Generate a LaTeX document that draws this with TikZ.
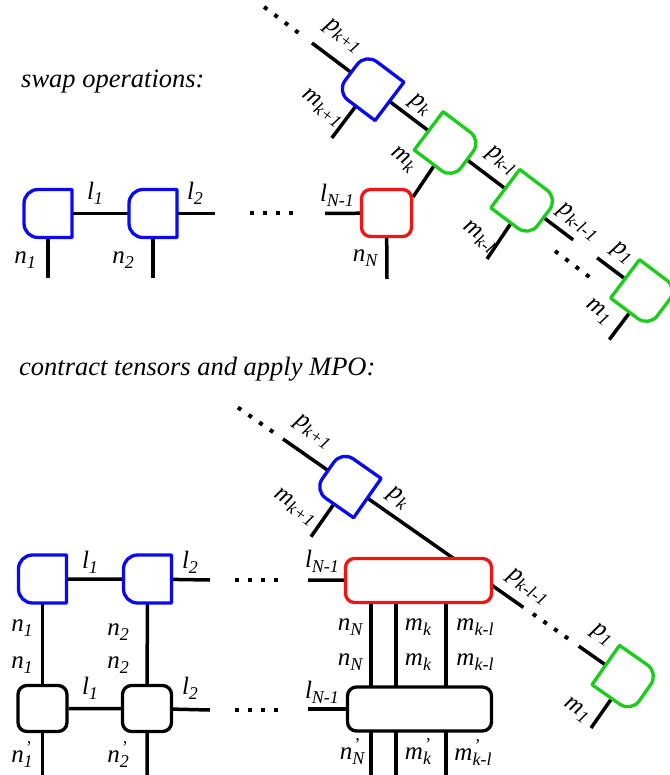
\documentclass[tikz,border=0pt]{standalone}
\usepackage{fontspec}
\setmainfont{Liberation Serif}
\definecolor{tblue}{RGB}{10,10,240}
\definecolor{tgreen}{RGB}{25,205,25}
\definecolor{tred}{RGB}{240,20,20}
\newcommand\subfont{\fontsize{18}{18}\selectfont\itshape}
\newcommand\ix[2]{\textit{#1}\raisebox{-5pt}{\subfont #2}}
\newcommand\ixp[2]{\textit{#1}\rlap{\raisebox{9pt}{\subfont\kern1pt '}}\raisebox{-5pt}{\subfont #2}}
\newcommand\Dshape[4]{%
  \begin{scope}[shift={(#2)},rotate=#3,xscale=#4]
    \draw[tens,draw=#1] (24,-24) -- (-10,-24) .. controls (-17.8,-24) and (-24,-17.8) .. (-24,-10)
      -- (-24,10) .. controls (-24,17.8) and (-17.8,24) .. (-10,24) -- (24,24) -- cycle;
  \end{scope}}
\pgfdeclarelayer{bg}
\pgfsetlayers{bg,main}
\begin{document}
\begin{tikzpicture}[x=1pt,y=-1pt,
  bond/.style={line width=3.5pt},
  dotline/.style={line width=4pt,dash pattern=on 4pt off 9pt},
  tens/.style={line width=3.3pt,fill=white,line join=round},
  lbl/.style={font=\fontsize{25}{25}\selectfont,inner sep=0pt},
  ttl/.style={font=\fontsize{26.5}{26.5}\selectfont\itshape,inner sep=0pt,anchor=base west},
  box/.style={draw,line width=3.3pt,fill=white,rounded corners=9pt,inner sep=0pt}]
\useasboundingbox (0,0) rectangle (669,775);

% titles
\node[ttl] (t1) at (21,88) {swap operations:};
\node[ttl] (t2) at (19,375) {contract tensors and apply MPO:};

% ===== TOP =====
\coordinate (A1) at (48,213.5);
\coordinate (A2) at (153,213.5);
\coordinate (A2r) at (215,213.5);
\coordinate (Ad1) at (250,213.5);
\coordinate (Ad2) at (293,213.5);
\coordinate (ARl) at (325,213.5);
\coordinate (A1d) at (48,278);
\coordinate (A2d) at (153,278);
\coordinate (ARd) at (387,279);
\node[box,draw=tred,minimum width=50pt,minimum height=47pt] (R1) at (386.5,213) {};

\coordinate (Ts) at (312,43);
\coordinate (Td1) at (264.1,6.9);
\coordinate (Td2) at (298.4,32.8);
\coordinate (B) at (370.3,86.9);
\coordinate (G1) at (447.8,145.3);
\coordinate (G2) at (524.4,203.1);
\coordinate (G2r) at (573.1,239.8);
\coordinate (Te1) at (555,251);
\coordinate (Te2) at (589.3,276.9);
\coordinate (G3l) at (597.1,257.8);
\coordinate (G3) at (644.2,293.3);
\coordinate (Bd) at (331.8,138.0);
\coordinate (G1d) at (413,197);
\coordinate (G2d) at (487,259);
\coordinate (G3d) at (609.3,339.6);

\Dshape{tblue}{A1}{0}{1}
\Dshape{tblue}{A2}{0}{1}
\Dshape{tblue}{B}{-37}{1}
\Dshape{tgreen}{G1}{-37}{-1}
\Dshape{tgreen}{G2}{-37}{-1}
\Dshape{tgreen}{G3}{-37}{-1}

\begin{pgfonlayer}{bg}
\draw[bond] (A1) -- (A2) -- (A2r);
\draw[bond] (A1) -- (A1d);
\draw[bond] (A2) -- (A2d);
\draw[dotline] (Ad1) -- (Ad2);
\draw[bond] (ARl) -- (R1);
\draw[bond] (R1) -- (ARd);
\draw[dotline] (Td1) -- (Td2);
\draw[bond] (Ts) -- (B) -- (G1) -- (G2) -- (G2r);
\draw[dotline] (Te1) -- (Te2);
\draw[bond] (G3l) -- (G3);
\draw[bond] (B) -- (Bd);
\draw[bond] (G1) -- (G1d);
\draw[bond] (G2) -- (G2d);
\draw[bond] (G3) -- (G3d);
\end{pgfonlayer}

\node[lbl] (la1) at (95,193) {\ix{l}{1}};
\node[lbl] (la2) at (195,193) {\ix{l}{2}};
\node[lbl] (la3) at (25,260) {\ix{n}{1}};
\node[lbl] (la4) at (123,260) {\ix{n}{2}};
\node[lbl] (la5) at (337,195) {\ix{l}{N-1}};
\node[lbl] (la6) at (365,258) {\ix{n}{N}};
\node[lbl,rotate=-37] (lb1) at (343,36) {\ix{p}{k+1}};
\node[lbl,rotate=-37] (lb2) at (322,108) {\ix{m}{k+1}};
\node[lbl,rotate=-37] (lb3) at (420,105) {\ix{p}{k}};
\node[lbl,rotate=-37] (lb4) at (403,160) {\ix{m}{k}};
\node[lbl,rotate=-37] (lb5) at (501,160) {\ix{p}{k-l}};
\node[lbl,rotate=-37] (lb6) at (479,237) {\ix{m}{k-l}};
\node[lbl,rotate=-37] (lb7) at (578,222) {\ix{p}{k-l-1}};
\node[lbl,rotate=-37] (lb8) at (622,253) {\ix{p}{1}};
\node[lbl,rotate=-37] (lb9) at (598,312) {\ix{m}{1}};

% ===== BOTTOM =====
\coordinate (C1) at (42.5,579);
\coordinate (C2) at (147.5,579);
\coordinate (C2r) at (210,580);
\coordinate (Cd1) at (235,580);
\coordinate (Cd2) at (278,580);
\coordinate (CRl) at (308,580);
\node[box,draw=black,minimum width=49pt,minimum height=46pt] (K1) at (42.5,708.5) {};
\node[box,draw=black,minimum width=49pt,minimum height=46pt] (K2) at (147,708.5) {};
\coordinate (K2r) at (210,710);
\coordinate (Kd1) at (235,710);
\coordinate (Kd2) at (278,710);
\coordinate (KRl) at (308,709);
\coordinate (K1d) at (42.5,776);
\coordinate (K2d) at (147,776);
\node[box,draw=tred,minimum width=146pt,minimum height=44pt] (RB) at (418.5,580.5) {};
\node[box,draw=black,minimum width=144pt,minimum height=44pt] (KB) at (419.5,709) {};
\coordinate (v1t) at (371,580);
\coordinate (v2t) at (396,580);
\coordinate (v3t) at (446,580);
\coordinate (v1b) at (371,776);
\coordinate (v2b) at (396,776);
\coordinate (v3b) at (446,776);

\coordinate (Us) at (283,439);
\coordinate (Ud1) at (237.9,407.5);
\coordinate (Ud2) at (273.2,432.1);
\coordinate (BB) at (347.7,484.3);
\coordinate (Uin) at (471.4,570.9);
\coordinate (Ue) at (523.4,607.4);
\coordinate (Ued1) at (532.9,613.9);
\coordinate (Ued2) at (568.1,638.6);
\coordinate (GBl) at (578.7,646.1);
\coordinate (GB) at (625.4,678.8);
\coordinate (BBd) at (311.0,536.7);
\coordinate (GBd) at (591,728);

\Dshape{tblue}{C1}{0}{1}
\Dshape{tblue}{C2}{0}{1}
\Dshape{tblue}{BB}{-35}{1}
\Dshape{tgreen}{GB}{-35}{-1}

\begin{pgfonlayer}{bg}
\draw[bond] (C1) -- (C2) -- (C2r);
\draw[dotline] (Cd1) -- (Cd2);
\draw[bond] (CRl) -- (RB);
\draw[bond] (C1) -- (K1) -- (K1d);
\draw[bond] (C2) -- (K2) -- (K2d);
\draw[bond] (K1) -- (K2) -- (K2r);
\draw[dotline] (Kd1) -- (Kd2);
\draw[bond] (KRl) -- (KB);
\draw[bond] (v1t) -- (v1b);
\draw[bond] (v2t) -- (v2b);
\draw[bond] (v3t) -- (v3b);
\draw[dotline] (Ud1) -- (Ud2);
\draw[bond] (Us) -- (BB) -- (Uin) -- (Ue);
\draw[dotline] (Ued1) -- (Ued2);
\draw[bond] (GBl) -- (GB);
\draw[bond] (BB) -- (BBd);
\draw[bond] (GB) -- (GBd);
\end{pgfonlayer}

\node[lbl] (lc1) at (90,562) {\ix{l}{1}};
\node[lbl] (lc2) at (190,562) {\ix{l}{2}};
\node[lbl] (lc3) at (22,628) {\ix{n}{1}};
\node[lbl] (lc4) at (118,632) {\ix{n}{2}};
\node[lbl] (lc5) at (22,665) {\ix{n}{1}};
\node[lbl] (lc6) at (118,665) {\ix{n}{2}};
\node[lbl] (lc7) at (90,688) {\ix{l}{1}};
\node[lbl] (lc8) at (190,688) {\ix{l}{2}};
\node[lbl] (lc9) at (22,755) {\ixp{n}{1}};
\node[lbl] (lc10) at (118,755) {\ixp{n}{2}};
\node[lbl,rotate=-35] (ld1) at (313,432) {\ix{p}{k+1}};
\node[lbl,rotate=-35] (ld2) at (295,507) {\ix{m}{k+1}};
\node[lbl,rotate=-35] (ld3) at (398,498) {\ix{p}{k}};
\node[lbl,rotate=-35] (ld4) at (528,587) {\ix{p}{k-l-1}};
\node[lbl,rotate=-35] (ld5) at (602,635) {\ix{p}{1}};
\node[lbl,rotate=-35] (ld6) at (577,710) {\ix{m}{1}};
\node[lbl] (le1) at (322,561) {\ix{l}{N-1}};
\node[lbl] (le2) at (350,627) {\ix{n}{N}};
\node[lbl] (le3) at (418,627) {\ix{m}{k}};
\node[lbl] (le4) at (475,627) {\ix{m}{k-l}};
\node[lbl] (le5) at (350,662) {\ix{n}{N}};
\node[lbl] (le6) at (418,662) {\ix{m}{k}};
\node[lbl] (le7) at (475,662) {\ix{m}{k-l}};
\node[lbl] (le8) at (322,692) {\ix{l}{N-1}};
\node[lbl] (le9) at (352,752) {\ixp{n}{N}};
\node[lbl] (le10) at (418,752) {\ixp{m}{k}};
\node[lbl] (le11) at (473,753) {\ixp{m}{k-l}};
\end{tikzpicture}
\end{document}
